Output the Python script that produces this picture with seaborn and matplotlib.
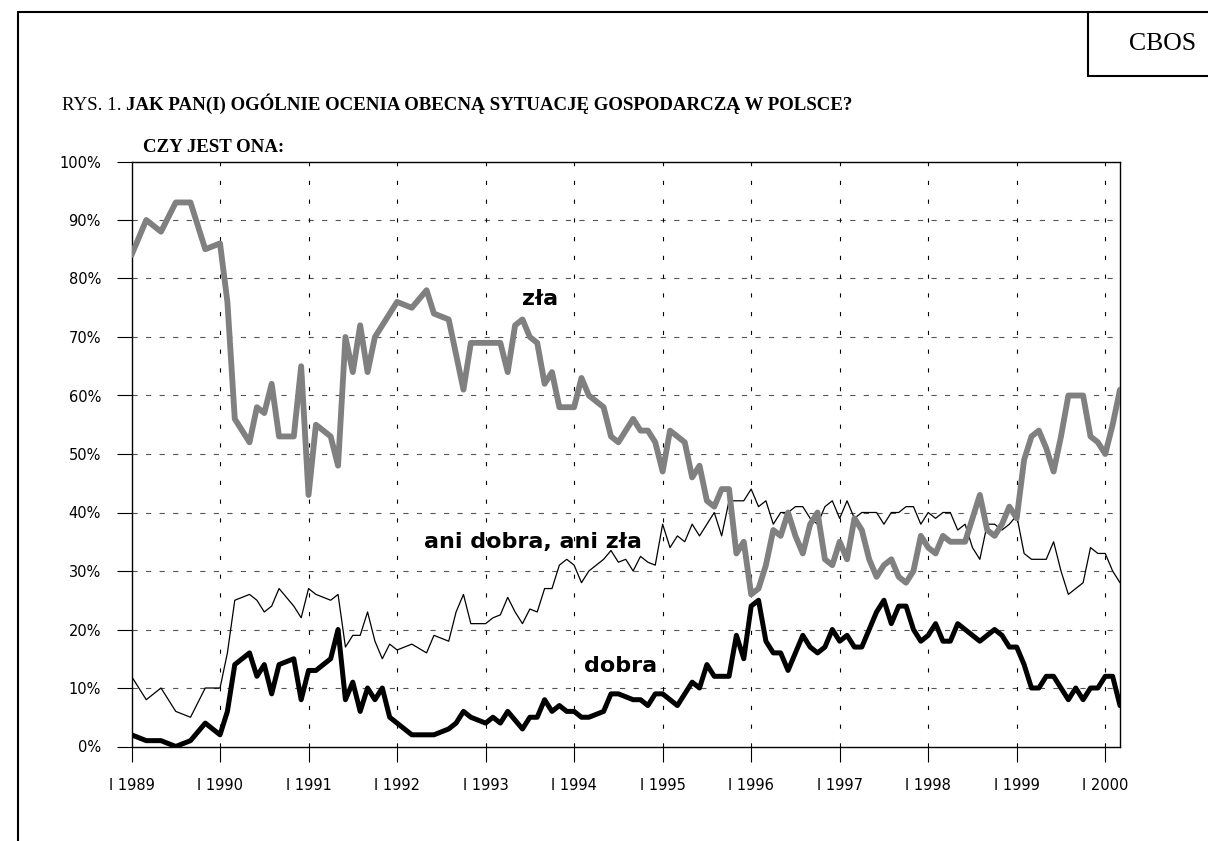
import numpy as np
import pandas as pd
import matplotlib
matplotlib.use("Agg")
import matplotlib.pyplot as plt
import seaborn as sns
from matplotlib.lines import Line2D

# ---------------- data (month index counted from January 1989) ----------------
months = [0, 2, 4, 6, 8, 10,
          12, 13, 14, 16, 17, 18, 19, 20, 22, 23,
          24, 25, 27, 28, 29, 30, 31, 32, 33, 34, 35,
          36, 38, 40, 41, 43, 44, 45, 46, 48, 49, 50, 51, 52, 53, 54, 55, 56, 57, 58, 59,
          60, 61, 62, 64, 65, 66, 67, 68, 69, 70, 71,
          72, 73, 74, 75, 76, 77, 78, 79, 80, 81, 82, 83,
          84, 85, 86, 87, 88, 89, 90, 91, 92, 93, 94, 95,
          96, 97, 98, 99, 100, 101, 102, 103, 104, 105, 106, 107,
          108, 109, 110, 111, 112, 113, 114, 115, 116, 117, 118, 119,
          120, 121, 122, 123, 124, 125, 126, 127, 128, 129, 130, 131,
          132, 133, 134]

zla = [84, 90, 88, 93, 93, 85,
       86, 76, 56, 52, 58, 57, 62, 53, 53, 65,
       43, 55, 53, 48, 70, 64, 72, 64, 70, 72, 74,
       76, 75, 78, 74, 73, 67, 61, 69, 69, 69, 69, 64, 72, 73, 70, 69, 62, 64, 58, 58,
       58, 63, 60, 58, 53, 52, 54, 56, 54, 54, 52,
       47, 54, 53, 52, 46, 48, 42, 41, 44, 44, 33, 35,
       26, 27, 31, 37, 36, 40, 36, 33, 38, 40, 32, 31,
       35, 32, 39, 37, 32, 29, 31, 32, 29, 28, 30, 36,
       34, 33, 36, 35, 35, 35, 39, 43, 37, 36, 38, 41,
       39, 49, 53, 54, 51, 47, 53, 60, 60, 60, 53, 52,
       50, 55, 61]

ani = [12, 8, 10, 6, 5, 10,
       10, 16, 25, 26, 25, 23, 24, 27, 24, 22,
       27, 26, 25, 26, 17, 19, 19, 23, 18, 15, 17.5,
       16.5, 17.5, 16, 19, 18, 23, 26, 21, 21, 22, 22.5, 25.5, 23, 21, 23.5, 23, 27, 27, 31, 32,
       31, 28, 30, 32, 33.5, 31.5, 32, 30, 32.5, 31.5, 31,
       38, 34, 36, 35, 38, 36, 38, 40, 36, 42, 42, 42,
       44, 41, 42, 38, 40, 40, 41, 41, 39, 38, 41, 42,
       39, 42, 39, 40, 40, 40, 38, 40, 40, 41, 41, 38,
       40, 39, 40, 40, 37, 38, 34, 32, 38, 38, 37, 38,
       39.5, 33, 32, 32, 32, 35, 30, 26, 27, 28, 34, 33,
       33, 30, 28]

dobra = [2, 1, 1, 0, 1, 4,
         2, 6, 14, 16, 12, 14, 9, 14, 15, 8,
         13, 13, 15, 20, 8, 11, 6, 10, 8, 10, 5,
         4, 2, 2, 2, 3, 4, 6, 5, 4, 5, 4, 6, 4.5, 3, 5, 5, 8, 6, 7, 6,
         6, 5, 5, 6, 9, 9, 8.5, 8, 8, 7, 9,
         9, 8, 7, 9, 11, 10, 14, 12, 12, 12, 19, 15,
         24, 25, 18, 16, 16, 13, 16, 19, 17, 16, 17, 20,
         18, 19, 17, 17, 20, 23, 25, 21, 24, 24, 20, 18,
         19, 21, 18, 18, 21, 20, 19, 18, 19, 20, 19, 17,
         17, 14, 10, 10, 12, 12, 10, 8, 10, 8, 10, 10,
         12, 12, 7]

year_ticks = list(range(1989, 2001))
year_labels = [f"I {y}" for y in year_ticks]
pct_ticks = list(range(0, 101, 10))
pct_labels = [f"{p}%" for p in pct_ticks]

title_reg = "RYS. 1. "
title_bold = "JAK PAN(I) OGÓLNIE OCENIA OBECNĄ SYTUACJĘ GOSPODARCZĄ W POLSCE?"
title_bold2 = "CZY JEST ONA:"

df = pd.DataFrame({"year": 1989 + np.array(months) / 12.0,
                   "zla": zla, "ani": ani, "dobra": dobra})

# ---------------- figure ----------------
sns.set_theme(style="white")
plt.rcParams["font.family"] = ["DejaVu Sans"]
plt.rcParams["lines.scale_dashes"] = False
plt.rcParams["text.color"] = "black"
plt.rcParams["xtick.color"] = "black"
plt.rcParams["ytick.color"] = "black"

W, H = 1208, 841
fig = plt.figure(figsize=(W / 100, H / 100), dpi=100)
fig.patch.set_facecolor("white")

L, R, T, B = 131.5, 1120, 161.5, 746.5
ax = fig.add_axes([L / W, 1 - B / H, (R - L) / W, (B - T) / H])
ax.set_facecolor("white")

sns.lineplot(data=df, x="year", y="ani", color="black", linewidth=0.9, ax=ax, zorder=3)
sns.lineplot(data=df, x="year", y="dobra", color="black", linewidth=3.6, ax=ax, zorder=4)
sns.lineplot(data=df, x="year", y="zla", color="#808080", linewidth=4.2, ax=ax, zorder=5)

ax.set_xlim(1989, 1989 + months[-1] / 12.0)
ax.set_ylim(0, 100)
ax.set_xticks(year_ticks)
ax.set_xticklabels(year_labels)
ax.set_yticks(pct_ticks)
ax.set_yticklabels(pct_labels)
ax.set_xlabel("")
ax.set_ylabel("")
ax.tick_params(axis="both", direction="out", length=10.5, width=0.8, color="black",
               labelsize=10.5, labelcolor="black")
ax.tick_params(axis="y", pad=11.5)
ax.tick_params(axis="x", pad=12)
ax.tick_params(bottom=True, left=True)

for s in ax.spines.values():
    s.set_visible(True)
    s.set_color("black")
    s.set_linewidth(1.0)

# gridlines
for p in pct_ticks[1:-1]:
    ax.axhline(p, color="#555555", linewidth=0.8, linestyle=(0, (3.75, 6)), zorder=1)
for y in year_ticks[1:]:
    ax.axvline(y, color="black", linewidth=0.8, linestyle=(0, (3, 10.5)), zorder=1)

# series labels
lab = dict(fontsize=16, fontweight="bold", ha="center", va="center", color="black", zorder=6)
ax.text(1993.616, 76.5, "zła", **lab)
ax.text(1993.537, 35.0, "ani dobra, ani zła", **lab)
ax.text(1994.52, 13.8, "dobra", **lab)

# ---------------- title & frame ----------------
def fx(x):
    return x / W

def fy(y):
    return 1 - y / H

serif = ["Liberation Serif", "DejaVu Serif"]
t1 = fig.text(fx(62), fy(110), title_reg, fontsize=13.6, family=serif, va="baseline",
              ha="left", color="black")
fig.canvas.draw()
bb = t1.get_window_extent(renderer=fig.canvas.get_renderer())
fig.text(bb.x1 / W, fy(110), title_bold, fontsize=13.6, family=serif, fontweight="bold",
         va="baseline", ha="left", color="black")
fig.text(fx(143), fy(152), title_bold2, fontsize=13.6, family=serif, fontweight="bold",
         va="baseline", ha="left", color="black")

fig.text(fx(1163), fy(44), "CBOS", fontsize=18.5, family=serif, ha="center", va="center",
         color="black")

lw_frame = 1.5
fig.add_artist(Line2D([fx(18), fx(W)], [fy(12), fy(12)], color="black", lw=lw_frame,
                      transform=fig.transFigure))
fig.add_artist(Line2D([fx(18), fx(18)], [fy(12), fy(H)], color="black", lw=lw_frame,
                      transform=fig.transFigure))
fig.add_artist(Line2D([fx(1088), fx(1088)], [fy(12), fy(76)], color="black", lw=lw_frame,
                      transform=fig.transFigure))
fig.add_artist(Line2D([fx(1088), fx(W)], [fy(76), fy(76)], color="black", lw=lw_frame,
                      transform=fig.transFigure))

fig.savefig("out.png", dpi=100, facecolor="white")
